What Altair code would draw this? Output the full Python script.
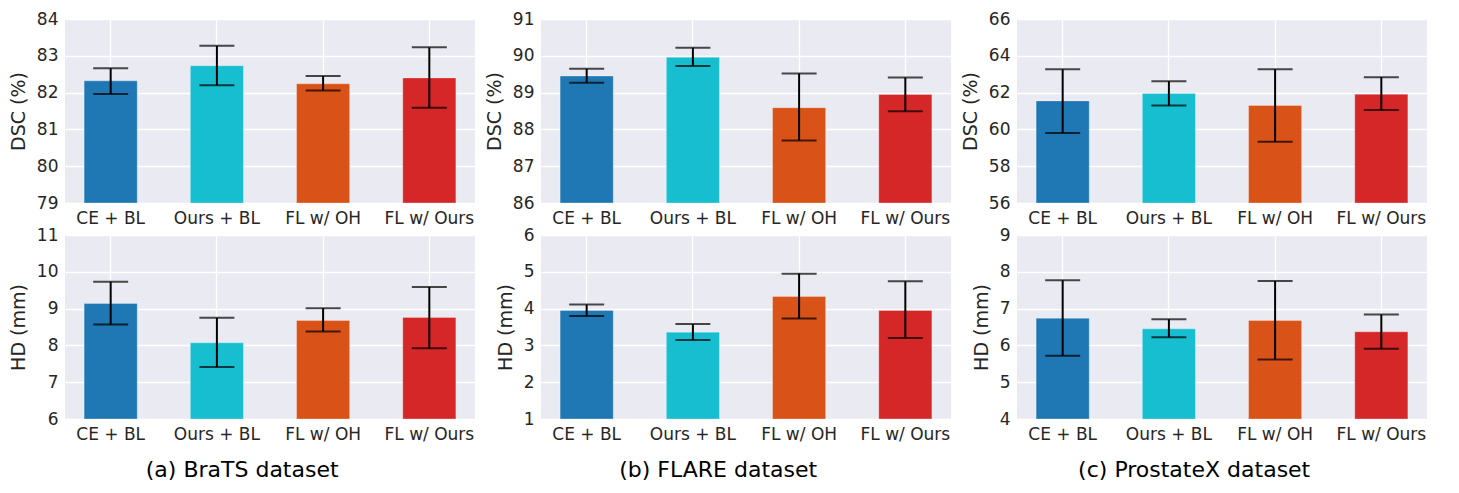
import altair as alt
import pandas as pd

methods = ["CE + BL", "Ours + BL", "FL w/ OH", "FL w/ Ours"]
colors = ["#1f77b4", "#17becf", "#d95319", "#d62728"]

# BraTS
brats_dsc_mean = [82.32, 82.73, 82.24, 82.40]
brats_dsc_lo = [81.96, 82.20, 82.06, 81.59]
brats_dsc_hi = [82.66, 83.27, 82.45, 83.23]
brats_hd_mean = [9.14, 8.07, 8.68, 8.76]
brats_hd_lo = [8.57, 7.41, 8.38, 7.92]
brats_hd_hi = [9.73, 8.75, 9.01, 9.59]

# FLARE
flare_dsc_mean = [89.45, 89.96, 88.59, 88.95]
flare_dsc_lo = [89.27, 89.72, 87.70, 88.49]
flare_dsc_hi = [89.65, 90.22, 89.52, 89.41]
flare_hd_mean = [3.95, 3.36, 4.33, 3.95]
flare_hd_lo = [3.80, 3.15, 3.73, 3.20]
flare_hd_hi = [4.11, 3.58, 4.95, 4.74]

# ProstateX
prost_dsc_mean = [61.55, 61.95, 61.30, 61.91]
prost_dsc_lo = [59.80, 61.30, 59.33, 61.05]
prost_dsc_hi = [63.27, 62.62, 63.27, 62.84]
prost_hd_mean = [6.74, 6.45, 6.68, 6.37]
prost_hd_lo = [5.72, 6.22, 5.62, 5.91]
prost_hd_hi = [7.77, 6.71, 7.75, 6.84]

captions = ["(a) BraTS dataset", "(b) FLARE dataset", "(c) ProstateX dataset"]

FONT = "DejaVu Sans"
TXT = "#262626"


def panel(mean, lo, hi, domain, ticks, ytitle):
    df = pd.DataFrame({"method": methods, "mean": mean, "lo": lo, "hi": hi})
    x = alt.X(
        "method:N",
        sort=methods,
        scale=alt.Scale(paddingInner=0.5, paddingOuter=0.18),
        axis=alt.Axis(title=None, labelAngle=0, grid=True, bandPosition=0.5),
    )
    yscale = alt.Scale(domain=domain, nice=False, zero=False)
    yaxis = alt.Axis(values=ticks, title=ytitle, labelOverlap=False, tickCount=len(ticks))
    base = alt.Chart(df)
    bars = base.mark_bar(clip=True, stroke="white", strokeWidth=0.6, strokeOpacity=0.5).encode(
        x=x,
        y=alt.Y("mean:Q", scale=yscale, axis=yaxis),
        y2=alt.datum(domain[0]),
        color=alt.Color("method:N", scale=alt.Scale(domain=methods, range=colors), legend=None),
    )
    rule = base.mark_rule(color="black", strokeWidth=2).encode(
        x=alt.X("method:N", sort=methods),
        y=alt.Y("lo:Q", axis=yaxis),
        y2="hi:Q",
    )
    cap_hi = base.mark_tick(color="black", size=35, thickness=2, orient="horizontal").encode(
        x=alt.X("method:N", sort=methods), y=alt.Y("hi:Q", axis=yaxis)
    )
    cap_lo = base.mark_tick(color="black", size=35, thickness=2, orient="horizontal").encode(
        x=alt.X("method:N", sort=methods), y=alt.Y("lo:Q", axis=yaxis)
    )
    return alt.layer(bars, rule, cap_hi, cap_lo).properties(width=410, height=184)


cols = []
specs = [
    (brats_dsc_mean, brats_dsc_lo, brats_dsc_hi, [79, 84], [79, 80, 81, 82, 83, 84],
     brats_hd_mean, brats_hd_lo, brats_hd_hi, [6, 11], [6, 7, 8, 9, 10, 11]),
    (flare_dsc_mean, flare_dsc_lo, flare_dsc_hi, [86, 91], [86, 87, 88, 89, 90, 91],
     flare_hd_mean, flare_hd_lo, flare_hd_hi, [1, 6], [1, 2, 3, 4, 5, 6]),
    (prost_dsc_mean, prost_dsc_lo, prost_dsc_hi, [56, 66], [56, 58, 60, 62, 64, 66],
     prost_hd_mean, prost_hd_lo, prost_hd_hi, [4, 9], [4, 5, 6, 7, 8, 9]),
]
for cap, s in zip(captions, specs):
    top = panel(s[0], s[1], s[2], s[3], s[4], "DSC (%)")
    bot = panel(s[5], s[6], s[7], s[8], s[9], "HD (mm)")
    col = alt.vconcat(top, bot, spacing=0).properties(
        title=alt.TitleParams(
            cap, orient="bottom", anchor="middle", fontSize=22, font=FONT,
            fontWeight="normal", color="black", offset=18,
        )
    )
    cols.append(col)

chart = (
    alt.hconcat(*cols, spacing=10)
    .properties(padding={"left": 1, "top": 2, "right": 0, "bottom": 0})
    .configure_view(stroke=None, fill="#eaeaf2")
    .configure_axis(
        domain=False,
        ticks=False,
        gridColor="white",
        gridWidth=1.3,
        labelColor=TXT,
        titleColor=TXT,
        labelFont=FONT,
        titleFont=FONT,
        labelFontSize=17,
        titleFontSize=19,
        titleFontWeight="normal",
        labelPadding=7,
        titlePadding=8,
    )
    .configure_axisY(labelOverlap=False)
    .configure_concat(spacing=10)
)

chart.save("out.html", embed_options={"renderer": "svg", "actions": False})
